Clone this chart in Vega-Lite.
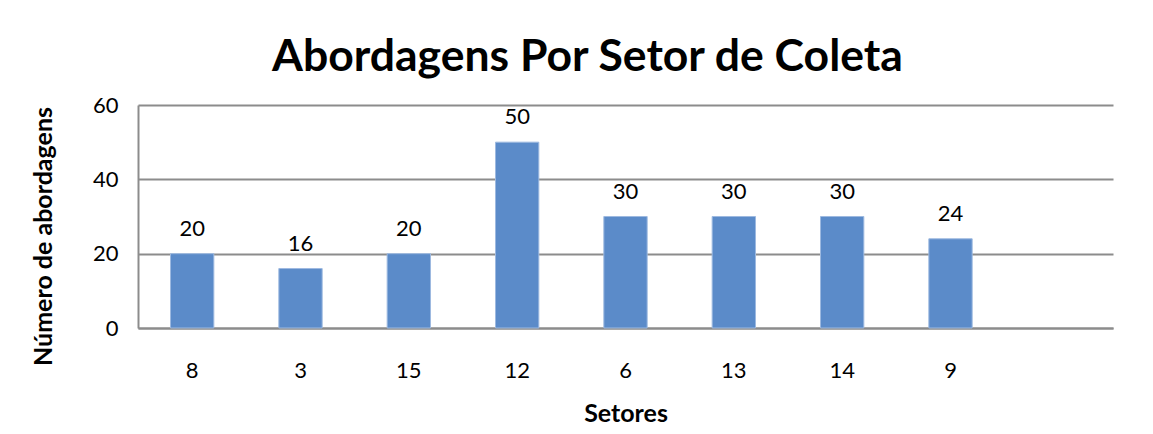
{
  "$schema": "https://vega.github.io/schema/vega-lite/v6.json",
  "width": 975,
  "height": 223,
  "autosize": {"type": "none"},
  "padding": {"left": 138, "top": 105, "right": 40, "bottom": 106},
  "background": "white",
  "config": {
    "font": "Lato",
    "view": {"stroke": null}
  },
  "title": {
    "text": "Abordagens Por Setor de Coleta",
    "fontSize": 44.5,
    "fontWeight": "bold",
    "font": "Lato",
    "color": "#000000",
    "anchor": "middle",
    "dx": -38,
    "offset": 14
  },
  "data": {
    "values": [
      {"setor": "8", "abordagens": 20},
      {"setor": "3", "abordagens": 16},
      {"setor": "15", "abordagens": 20},
      {"setor": "12", "abordagens": 50},
      {"setor": "6", "abordagens": 30},
      {"setor": "13", "abordagens": 30},
      {"setor": "14", "abordagens": 30},
      {"setor": "9", "abordagens": 24}
    ]
  },
  "encoding": {
    "x": {
      "field": "setor",
      "type": "nominal",
      "sort": null,
      "scale": {"domain": ["8", "3", "15", "12", "6", "13", "14", "9", " "], "paddingInner": 0.6, "paddingOuter": 0.3},
      "axis": {
        "title": "Setores",
        "titleFontSize": 25,
        "titleFontWeight": "bold",
        "titleColor": "#000000",
        "titlePadding": 20,
        "labelAngle": 0,
        "labelFontSize": 22,
        "labelColor": "#000000",
        "labelPadding": 32,
        "ticks": false,
        "domainColor": "#8c8c8c",
        "domainWidth": 2,
        "grid": false
      }
    },
    "y": {
      "field": "abordagens",
      "type": "quantitative",
      "scale": {"domain": [0, 60]},
      "axis": {
        "title": "Número de abordagens",
        "titleFontSize": 25,
        "titleFontWeight": "bold",
        "titleColor": "#000000",
        "titlePadding": 36,
        "titleY": 131,
        "values": [0, 20, 40, 60],
        "labelFontSize": 22,
        "labelColor": "#000000",
        "labelPadding": 20,
        "ticks": false,
        "domainColor": "#8c8c8c",
        "domainWidth": 2,
        "grid": true,
        "gridColor": "#8c8c8c",
        "gridWidth": 2
      }
    }
  },
  "layer": [
    {
      "mark": {"type": "bar", "color": "#5B8BC9", "stroke": "#9DB9E0", "strokeWidth": 1}
    },
    {
      "mark": {"type": "text", "fontSize": 22, "baseline": "alphabetic", "dy": -18, "color": "#000000"},
      "encoding": {"text": {"field": "abordagens", "type": "quantitative"}}
    }
  ]
}
